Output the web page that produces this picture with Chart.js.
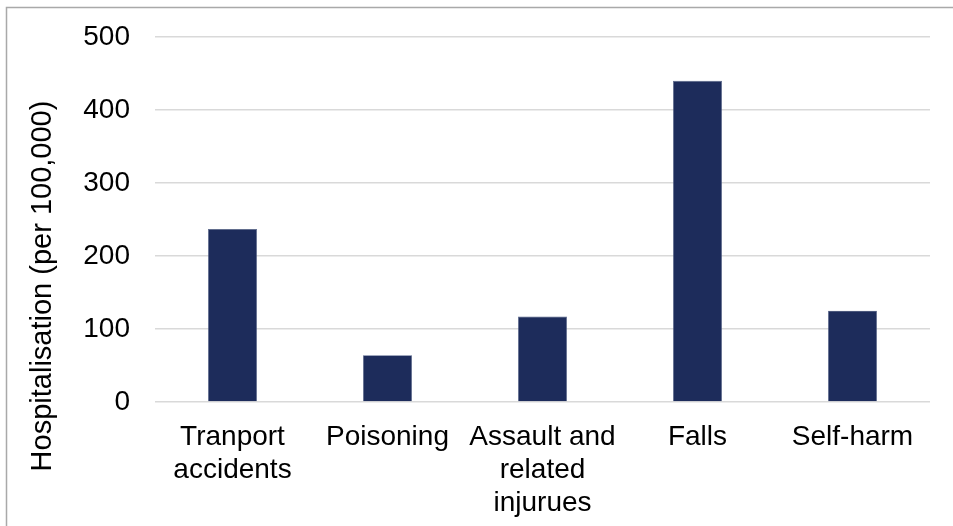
<!DOCTYPE html>
<html>
<head>
<meta charset="utf-8">
<script src="https://cdn.jsdelivr.net/npm/chart.js@4/dist/chart.umd.min.js"></script>
<style>
  html, body { margin: 0; padding: 0; background: #fff; }
  #wrap { width: 953px; height: 526px; position: relative; }
</style>
</head>
<body>
<div id="wrap"><canvas id="chart" width="953" height="526"></canvas></div>
<script>
// Injury categories (multi-line labels are split where they wrap)
const categories = [
  ['Tranport', 'accidents'],
  'Poisoning',
  ['Assault and', 'related', 'injurues'],
  'Falls',
  'Self-harm'
];
// Hospitalisation rate per 100,000 population
const hospitalisationRates = [237, 64, 117, 440, 125];
const yAxisTitle = 'Hospitalisation (per 100,000)';
const yMin = 0;
const yMax = 500;
const yStep = 100;

const FONT = '"Liberation Sans", Arial, sans-serif';

// Frame line along the top and left edge, plus the rotated axis title
const framePlugin = {
  id: 'frame',
  beforeDraw(chart) {
    const ctx = chart.ctx;
    ctx.save();
    ctx.strokeStyle = '#A9A9A9';
    ctx.lineWidth = 1.5;
    ctx.beginPath();
    ctx.moveTo(6.5, 526);
    ctx.lineTo(6.5, 7.5);
    ctx.lineTo(953, 7.5);
    ctx.stroke();
    ctx.restore();
  },
  afterDraw(chart) {
    const ctx = chart.ctx;
    ctx.save();
    ctx.translate(43, 286);
    ctx.rotate(-Math.PI / 2);
    ctx.fillStyle = '#000';
    ctx.font = '29px ' + FONT;
    ctx.textAlign = 'center';
    ctx.textBaseline = 'middle';
    ctx.fillText(yAxisTitle, 0, 0);
    ctx.restore();
  }
};

new Chart(document.getElementById('chart'), {
  type: 'bar',
  data: {
    labels: categories,
    datasets: [{
      data: hospitalisationRates,
      backgroundColor: '#1D2C5B',
      borderColor: '#56648A',
      borderWidth: 0.6,
      barPercentage: 0.316,
      categoryPercentage: 1
    }]
  },
  options: {
    responsive: false,
    animation: false,
    devicePixelRatio: 1,
    layout: { padding: { top: 37, right: 23, left: 0, bottom: 0 } },
    plugins: {
      legend: { display: false },
      tooltip: { enabled: false },
      title: { display: false }
    },
    scales: {
      x: {
        grid: { display: false, drawTicks: false },
        border: { display: false },
        ticks: {
          color: '#000',
          font: { family: FONT, size: 28, lineHeight: 1.17 },
          padding: 19,
          maxRotation: 0,
          autoSkip: false
        },
        afterFit(scale) {
          scale.height = 124;
          scale.paddingLeft = 0;
          scale.paddingRight = 0;
        }
      },
      y: {
        min: yMin,
        max: yMax,
        grid: { color: '#D9D9D9', lineWidth: 1.6, drawTicks: false },
        border: { display: false },
        ticks: {
          stepSize: yStep,
          color: '#000',
          font: { family: FONT, size: 28 },
          padding: 25
        },
        afterFit(scale) {
          scale.width = 155;
          scale.paddingTop = 0;
          scale.paddingBottom = 0;
        }
      }
    }
  },
  plugins: [framePlugin]
});
</script>
</body>
</html>
